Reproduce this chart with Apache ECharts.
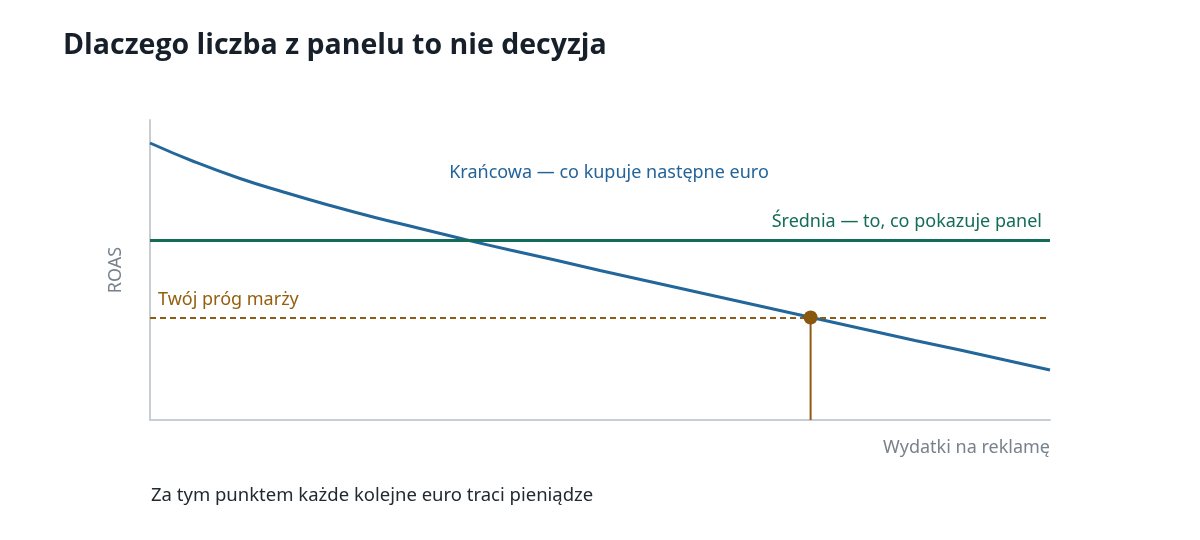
<!DOCTYPE html>
<html>
<head>
<meta charset="utf-8">
<script src="https://cdn.jsdelivr.net/npm/echarts@6/dist/echarts.min.js"></script>
<style>
  html, body { margin: 0; padding: 0; background: #ffffff; }
  #app { width: 1200px; height: 540px; }
</style>
</head>
<body>
<div id="app"></div>
<script>
// dane (wydatki 0-100, ROAS w umownych jednostkach)
const spendX = [0, 5, 10, 15, 20, 25, 30, 35, 40, 45, 50, 55, 60, 65, 70, 75, 80, 85, 90, 95, 100];
const marginalRoas = [5.54, 5.16, 4.83, 4.55, 4.29, 4.05, 3.83, 3.61, 3.40, 3.20, 2.99, 2.79, 2.59, 2.39, 2.19, 1.99, 1.79, 1.59, 1.40, 1.20, 1.00];
const averageRoas = 3.6;
const marginThreshold = 2.05;
const breakEven = [73.4, 2.05];
const marginalLabelAt = [51, 4.94];

const labels = {
    title: 'Dlaczego liczba z panelu to nie decyzja',
    caption: 'Za tym punktem każde kolejne euro traci pieniądze',
    marginal: 'Krańcowa — co kupuje następne euro',
    average: 'Średnia — to, co pokazuje panel',
    threshold: 'Twój próg marży',
    xName: 'Wydatki na reklamę',
    yName: 'ROAS'
};

const FONT = '"Noto Sans", sans-serif';
const BLUE = '#22669a';
const GREEN = '#136c58';
const BROWN = '#8f5a12';
const AXIS = '#c6ced4';
const GREY = '#77828c';

const myChart = echarts.init(document.getElementById('app'));

myChart.setOption({
    animation: false,
    backgroundColor: '#ffffff',
    textStyle: { fontFamily: FONT },
    title: [{
        text: labels.title,
        left: 58,
        top: 26,
        textStyle: { fontFamily: '"Open Sans", sans-serif', fontSize: 28.5, fontWeight: 'bold', color: '#17202a' }
    }, {
        text: labels.caption,
        left: 146,
        top: 481,
        textStyle: { fontFamily: FONT, fontSize: 18.5, fontWeight: 'normal', color: '#222a30' }
    }],
    grid: { left: 150, right: 150, top: 120, bottom: 120 },
    xAxis: {
        type: 'value',
        min: 0,
        max: 100,
        name: labels.xName,
        nameLocation: 'end',
        nameGap: 0,
        nameTextStyle: {
            fontFamily: FONT, fontSize: 18, color: GREY,
            align: 'right', verticalAlign: 'top', padding: [19, 0, 0, 0]
        },
        axisLine: { show: true, lineStyle: { color: AXIS, width: 2 } },
        axisTick: { show: false },
        axisLabel: { show: false },
        splitLine: { show: false }
    },
    yAxis: {
        type: 'value',
        min: 0,
        max: 6,
        name: labels.yName,
        nameLocation: 'middle',
        nameGap: 25,
        nameTextStyle: { fontFamily: FONT, fontSize: 18, color: GREY },
        axisLine: { show: true, lineStyle: { color: AXIS, width: 2 } },
        axisTick: { show: false },
        axisLabel: { show: false },
        splitLine: { show: false }
    },
    series: [{
        // średnia i próg jako linie poziome
        name: 'average',
        type: 'line',
        data: [],
        markLine: {
            silent: true,
            symbol: 'none',
            data: [{
                yAxis: averageRoas,
                lineStyle: { color: GREEN, width: 3, type: 'solid' },
                label: {
                    show: true, formatter: labels.average, position: 'insideEndTop',
                    distance: [8, 9], fontFamily: FONT, fontSize: 18, color: GREEN
                }
            }, {
                yAxis: marginThreshold,
                lineStyle: { color: BROWN, width: 2, type: [6, 4] },
                label: {
                    show: true, formatter: labels.threshold, position: 'insideStartTop',
                    distance: [8, 9], fontFamily: FONT, fontSize: 18, color: '#94600f'
                }
            }]
        }
    }, {
        name: 'marginal',
        type: 'line',
        smooth: true,
        showSymbol: false,
        data: spendX.map((x, i) => [x, marginalRoas[i]]),
        lineStyle: { color: BLUE, width: 3 },
        z: 3
    }, {
        // opis krzywej krańcowej
        name: 'marginalLabel',
        type: 'scatter',
        symbolSize: 0,
        data: [marginalLabelAt],
        itemStyle: { opacity: 1 },
        label: {
            show: true, position: 'inside', formatter: labels.marginal,
            fontFamily: FONT, fontSize: 18, color: '#23649a'
        },
        silent: true
    }, {
        // pionowa linia od punktu do osi
        name: 'drop',
        type: 'line',
        showSymbol: false,
        data: [[breakEven[0], 0], breakEven],
        lineStyle: { color: BROWN, width: 2 },
        z: 4
    }, {
        name: 'breakEven',
        type: 'scatter',
        symbol: 'circle',
        symbolSize: 14,
        data: [breakEven],
        itemStyle: { color: '#8a570f', opacity: 1 },
        z: 5
    }]
});
</script>
</body>
</html>
